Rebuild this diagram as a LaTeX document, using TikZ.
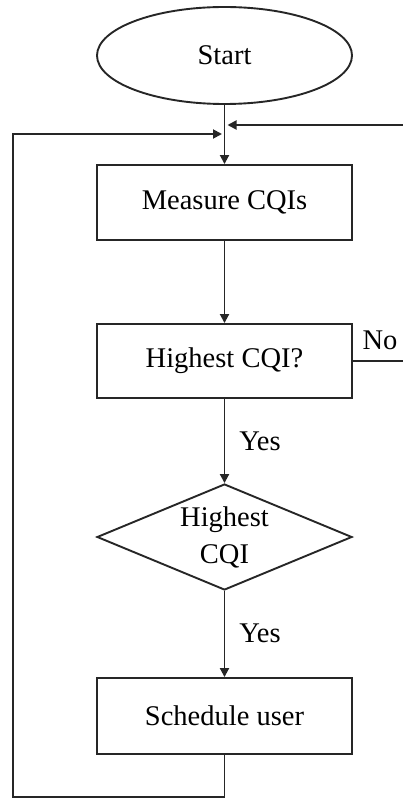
\documentclass[tikz,border=0pt]{standalone}
\usepackage{fontspec}
\setmainfont{Liberation Serif}
\usetikzlibrary{shapes.geometric,arrows.meta}
\begin{document}
\begin{tikzpicture}[x=1pt,y=-1pt,
  every node/.style={font=\fontsize{28.5}{37}\selectfont},
  line/.style={draw=black!85, line width=1.9pt},
  arr/.style={line, -{Triangle[length=9pt,width=9pt]}},
  box/.style={draw=black!85, line width=1.9pt, rectangle, minimum width=255pt, inner sep=0pt},
  lbl/.style={inner sep=0pt}]
\useasboundingbox (0,0) rectangle (402,799);
\node[draw=black!85, line width=1.9pt, ellipse, minimum width=255pt, minimum height=97pt, inner sep=0pt] (start) at (224.5,55.5) {Start};
\node[box, minimum height=75pt] (measure) at (224.5,202.5) {Measure CQIs};
\node[box, minimum height=74pt] (high) at (224.5,361) {Highest CQI?};
\node[draw=black!85, line width=1.9pt, diamond, minimum width=255pt, minimum height=106pt, inner sep=0pt,
  label={[align=center,font=\fontsize{28.5}{37}\selectfont]center:Highest\\CQI}] (dia) at (224.5,537) {};
\node[box, minimum height=76pt] (sched) at (224.5,716) {Schedule user};
\coordinate (jr) at (227.5,125);
\coordinate (jl) at (222,134);
\coordinate (er) at (405,125);
\coordinate (bl) at (13,797);
\node[lbl] (no) at (380,340) {No};
\node[lbl] (yes1) at (260,441) {Yes};
\node[lbl] (yes2) at (260,633) {Yes};
\draw[arr] (start.south) -- (measure.north);
\draw[arr] (measure.south) -- (high.north);
\draw[arr] (high.south) -- (dia.north);
\draw[arr] (dia.south) -- (sched.north);
\draw[arr] (high.east) -| (er) -- (jr);
\draw[arr] (sched.south) |- (bl) |- (jl);
\end{tikzpicture}
\end{document}
